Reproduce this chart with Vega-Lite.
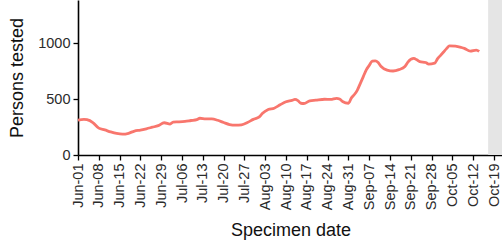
{
  "$schema": "https://vega.github.io/schema/vega-lite/v6.json",
  "width": 425,
  "height": 155,
  "autosize": {"type": "none"},
  "padding": {"left": 78, "top": 0, "right": 0, "bottom": 89},
  "background": "white",
  "config": {
    "view": {"stroke": null},
    "font": "Liberation Sans",
    "axis": {
      "labelOverlap": false,
      "labelBound": false,
      "labelFlush": false,
      "labelFontSize": 14.5,
      "labelColor": "#2b2b2b",
      "labelPadding": 3,
      "grid": false,
      "domainColor": "#000000",
      "domainWidth": 1.6,
      "tickColor": "#000000",
      "tickWidth": 1.3,
      "tickSize": 5,
      "titleFontSize": 18,
      "titleFontWeight": "normal",
      "titleColor": "#111111"
    },
    "axisX": {"labelAngle": 270, "titlePadding": 12, "labelSeparation": 0},
    "axisY": {"titlePadding": 11}
  },
  "datasets": {
    "tests": [
      {"date": "2020-06-01", "persons": 312},
      {"date": "2020-06-03", "persons": 318},
      {"date": "2020-06-04", "persons": 315},
      {"date": "2020-06-06", "persons": 290},
      {"date": "2020-06-08", "persons": 240},
      {"date": "2020-06-10", "persons": 224},
      {"date": "2020-06-12", "persons": 206},
      {"date": "2020-06-14", "persons": 192},
      {"date": "2020-06-16", "persons": 186},
      {"date": "2020-06-18", "persons": 194},
      {"date": "2020-06-20", "persons": 214},
      {"date": "2020-06-22", "persons": 222},
      {"date": "2020-06-24", "persons": 234},
      {"date": "2020-06-26", "persons": 248},
      {"date": "2020-06-28", "persons": 262},
      {"date": "2020-06-30", "persons": 288},
      {"date": "2020-07-02", "persons": 276},
      {"date": "2020-07-03", "persons": 294},
      {"date": "2020-07-05", "persons": 296},
      {"date": "2020-07-07", "persons": 300},
      {"date": "2020-07-09", "persons": 308},
      {"date": "2020-07-11", "persons": 316},
      {"date": "2020-07-12", "persons": 328},
      {"date": "2020-07-14", "persons": 322},
      {"date": "2020-07-16", "persons": 322},
      {"date": "2020-07-18", "persons": 310},
      {"date": "2020-07-20", "persons": 290},
      {"date": "2020-07-22", "persons": 272},
      {"date": "2020-07-24", "persons": 266},
      {"date": "2020-07-26", "persons": 270},
      {"date": "2020-07-28", "persons": 290},
      {"date": "2020-07-30", "persons": 318},
      {"date": "2020-08-01", "persons": 340},
      {"date": "2020-08-02", "persons": 370},
      {"date": "2020-08-04", "persons": 406},
      {"date": "2020-08-06", "persons": 418},
      {"date": "2020-08-08", "persons": 448},
      {"date": "2020-08-10", "persons": 476},
      {"date": "2020-08-12", "persons": 488},
      {"date": "2020-08-13", "persons": 496},
      {"date": "2020-08-14", "persons": 486},
      {"date": "2020-08-15", "persons": 462},
      {"date": "2020-08-16", "persons": 460},
      {"date": "2020-08-18", "persons": 484},
      {"date": "2020-08-20", "persons": 490},
      {"date": "2020-08-23", "persons": 498},
      {"date": "2020-08-25", "persons": 496},
      {"date": "2020-08-27", "persons": 506},
      {"date": "2020-08-28", "persons": 500},
      {"date": "2020-08-29", "persons": 478},
      {"date": "2020-08-31", "persons": 462},
      {"date": "2020-09-01", "persons": 510},
      {"date": "2020-09-02", "persons": 540},
      {"date": "2020-09-03", "persons": 580},
      {"date": "2020-09-04", "persons": 640},
      {"date": "2020-09-05", "persons": 700},
      {"date": "2020-09-06", "persons": 760},
      {"date": "2020-09-07", "persons": 800},
      {"date": "2020-09-08", "persons": 838},
      {"date": "2020-09-09", "persons": 840},
      {"date": "2020-09-10", "persons": 825},
      {"date": "2020-09-11", "persons": 790},
      {"date": "2020-09-13", "persons": 758},
      {"date": "2020-09-15", "persons": 750},
      {"date": "2020-09-17", "persons": 762},
      {"date": "2020-09-19", "persons": 790},
      {"date": "2020-09-20", "persons": 830},
      {"date": "2020-09-22", "persons": 862},
      {"date": "2020-09-23", "persons": 850},
      {"date": "2020-09-24", "persons": 834},
      {"date": "2020-09-26", "persons": 826},
      {"date": "2020-09-27", "persons": 812},
      {"date": "2020-09-29", "persons": 820},
      {"date": "2020-09-30", "persons": 860},
      {"date": "2020-10-01", "persons": 890},
      {"date": "2020-10-02", "persons": 920},
      {"date": "2020-10-03", "persons": 950},
      {"date": "2020-10-04", "persons": 975},
      {"date": "2020-10-06", "persons": 972},
      {"date": "2020-10-08", "persons": 960},
      {"date": "2020-10-09", "persons": 952},
      {"date": "2020-10-11", "persons": 928},
      {"date": "2020-10-13", "persons": 937},
      {"date": "2020-10-14", "persons": 925}
    ],
    "shade": [
      {"start": "2020-10-17", "end": "2020-10-23"}
    ]
  },
  "layer": [
    {
      "data": {"name": "tests"},
      "mark": {"type": "line", "color": "#F8766D", "strokeWidth": 2.8, "interpolate": "monotone"},
      "encoding": {
        "x": {
          "field": "date",
          "type": "temporal",
          "scale": {"type": "utc", "domain": ["2020-06-01", "2020-10-22"], "nice": false},
          "axis": {
            "title": "Specimen date",
            "format": "%b-%d",
            "labelOverlap": false,
            "tickCount": 40,
            "values": ["2020-06-01", "2020-06-08", "2020-06-15", "2020-06-22", "2020-06-29", "2020-07-06", "2020-07-13", "2020-07-20", "2020-07-27", "2020-08-03", "2020-08-10", "2020-08-17", "2020-08-24", "2020-08-31", "2020-09-07", "2020-09-14", "2020-09-21", "2020-09-28", "2020-10-05", "2020-10-12", "2020-10-19"]
          }
        },
        "y": {
          "field": "persons",
          "type": "quantitative",
          "scale": {"domain": [0, 1384], "nice": false, "zero": true},
          "axis": {"title": "Persons tested", "values": [0, 500, 1000], "format": "d"}
        }
      }
    },
    {
      "data": {"name": "shade"},
      "mark": {"type": "rect", "color": "#e5e5e5"},
      "encoding": {
        "x": {"field": "start", "type": "temporal"},
        "x2": {"field": "end"}
      }
    }
  ]
}
